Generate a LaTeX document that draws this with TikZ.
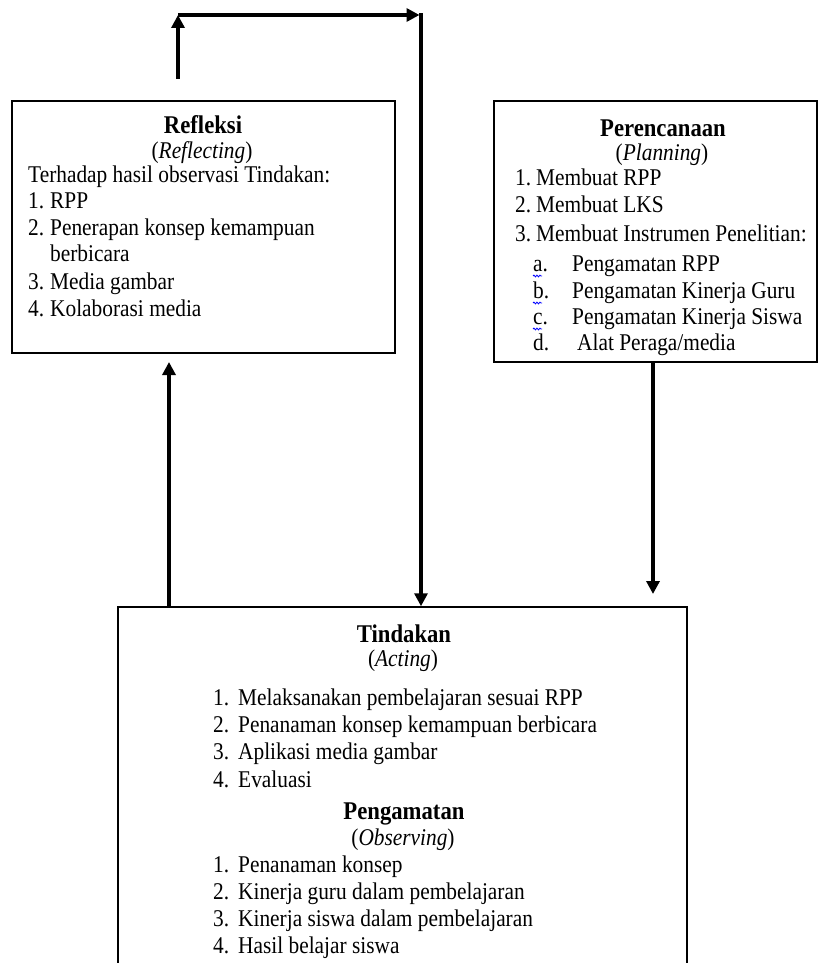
\documentclass[tikz,border=0pt]{standalone}
\usepackage{fontspec}
\setmainfont{Liberation Serif}[FakeStretch=0.89]
\usetikzlibrary{arrows.meta,decorations.pathmorphing}
\begin{document}
\begin{tikzpicture}[x=1pt,y=-1pt,
  box/.style={draw, line width=1.5pt, inner sep=0pt},
  txt/.style={anchor=base west, inner sep=0pt, font=\fontsize{24}{27}\selectfont},
  ttl/.style={anchor=base, inner sep=0pt, font=\fontsize{25.5}{28}\selectfont\bfseries},
  sub/.style={anchor=base, inner sep=0pt, font=\fontsize{24}{27}\selectfont},
  arr/.style={line width=3.5pt, -{Triangle[length=13pt,width=13pt]}},
  squig/.style={draw=blue, line width=0.8pt, decorate, decoration={snake, amplitude=0.9pt, segment length=3pt}}]
\useasboundingbox (0,0) rectangle (819,963);
\clip (0,0) rectangle (819,963);

% boxes
\node[box, minimum width=383pt, minimum height=252pt] (ref) at (203.5,227) {};
\node[box, minimum width=323pt, minimum height=261pt] (plan) at (655.5,231.5) {};
\node[box, minimum width=569pt, minimum height=378pt] (act) at (402.5,796) {};

% Refleksi text
\node[ttl] (rt) at (203,134) {Refleksi};
\node[sub] (rs) at (202,158) {(\textit{Reflecting})};
\node[txt] (r0) at (28,182) {Terhadap hasil observasi Tindakan:};
\node[txt] (r1n) at (28,208) {1.};
\node[txt] (r1) at (50,208) {RPP};
\node[txt] (r2n) at (28,235) {2.};
\node[txt] (r2) at (50,235) {Penerapan konsep kemampuan};
\node[txt] (r2b) at (50,261) {berbicara};
\node[txt] (r3n) at (28,289) {3.};
\node[txt] (r3) at (50,289) {Media gambar};
\node[txt] (r4n) at (28,316) {4.};
\node[txt] (r4) at (50,316) {Kolaborasi media};

% Perencanaan text
\node[ttl] (pt) at (663,136) {Perencanaan};
\node[sub] (ps) at (662,160) {(\textit{Planning})};
\node[txt] (p1n) at (515,185) {1.};
\node[txt] (p1) at (536,185) {Membuat RPP};
\node[txt] (p2n) at (515,212) {2.};
\node[txt] (p2) at (536,212) {Membuat LKS};
\node[txt] (p3n) at (515,241) {3.};
\node[txt] (p3) at (536,241) {Membuat Instrumen Penelitian:};
\node[txt] (pan) at (533,271) {a.};
\node[txt] (pa) at (572,271) {Pengamatan RPP};
\node[txt] (pbn) at (533,298) {b.};
\node[txt] (pb) at (572,298) {Pengamatan Kinerja Guru};
\node[txt] (pcn) at (533,324) {c.};
\node[txt] (pc) at (572,324) {Pengamatan Kinerja Siswa};
\node[txt] (pdn) at (533,350) {d.};
\node[txt] (pd) at (577,350) {Alat Peraga/media};
\draw[squig] (533,276) -- (542,276);
\draw[squig] (533,303) -- (542,303);
\draw[squig] (533,329) -- (542,329);

% Tindakan text
\node[ttl] (at) at (404,642) {Tindakan};
\node[sub] (as) at (403,666) {(\textit{Acting})};
\node[txt] (a1n) at (213,705) {1.};
\node[txt] (a1) at (238,705) {Melaksanakan pembelajaran sesuai RPP};
\node[txt] (a2n) at (213,732) {2.};
\node[txt] (a2) at (238,732) {Penanaman konsep kemampuan berbicara};
\node[txt] (a3n) at (213,759) {3.};
\node[txt] (a3) at (238,759) {Aplikasi media gambar};
\node[txt] (a4n) at (213,787) {4.};
\node[txt] (a4) at (238,787) {Evaluasi};
\node[ttl] (ot) at (404,819) {Pengamatan};
\node[sub] (os) at (403,845) {(\textit{Observing})};
\node[txt] (o1n) at (213,872) {1.};
\node[txt] (o1) at (238,872) {Penanaman konsep};
\node[txt] (o2n) at (213,899) {2.};
\node[txt] (o2) at (238,899) {Kinerja guru dalam pembelajaran};
\node[txt] (o3n) at (213,926) {3.};
\node[txt] (o3) at (238,926) {Kinerja siswa dalam pembelajaran};
\node[txt] (o4n) at (213,953) {4.};
\node[txt] (o4) at (238,953) {Hasil belajar siswa};

% connectors
\coordinate (u0) at (178,79);
\coordinate (u1) at (178,15);
\coordinate (u2) at (421,15);
\coordinate (l) at (169,362);
\coordinate (r) at (653,594);
\draw[arr] (u0) -- (u1);
\draw[arr, shorten >=1.5pt] (u1) -- (u2);
\draw[arr, shorten <=-1.75pt] (u2) -- (u2 |- act.north);
\draw[arr] (act.north -| l) -- (l);
\draw[arr] (plan.south -| r) -- (r);
\end{tikzpicture}
\end{document}
